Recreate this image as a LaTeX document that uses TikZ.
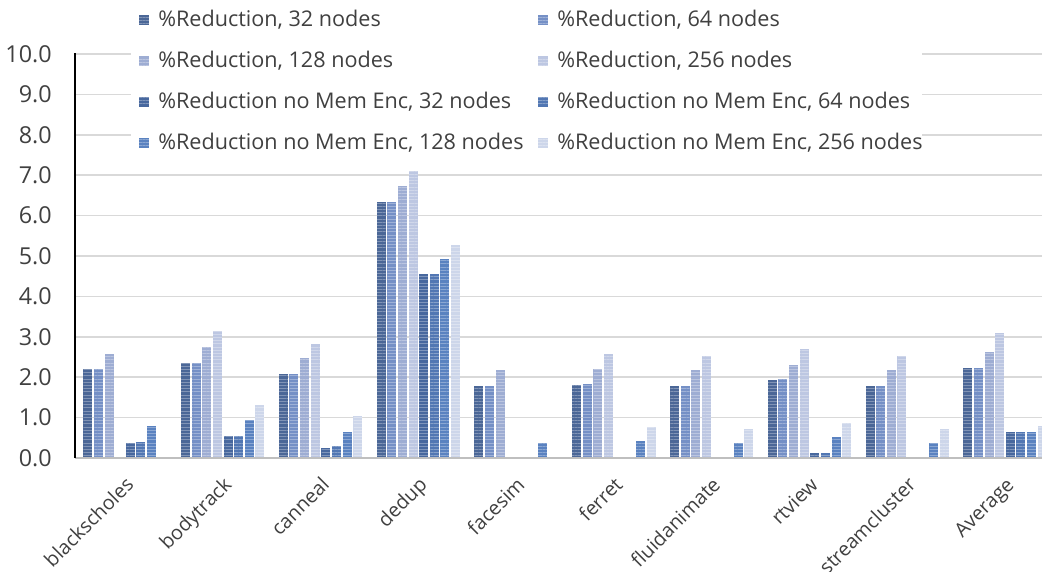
\documentclass[tikz,border=0pt]{standalone}
\usepackage{fontspec}
\setmainfont{Open Sans}
\usetikzlibrary{patterns.meta}

\definecolor{red32}{HTML}{4B6797}
\definecolor{red64}{HTML}{7590C6}
\definecolor{red128}{HTML}{9EADD3}
\definecolor{red256}{HTML}{BDC7E2}
\definecolor{nomem32}{HTML}{48689E}
\definecolor{nomem64}{HTML}{5277B3}
\definecolor{nomem128}{HTML}{5A82C0}
\definecolor{nomem256}{HTML}{CDD6EA}
\definecolor{txtgrey}{HTML}{404040}
\definecolor{gridgrey}{HTML}{D9D9D9}
\definecolor{basegrey}{HTML}{BFBFBF}

\tikzset{
  stripes/.style={pattern={Lines[angle=0,distance=2.4pt,line width=0.7pt]},pattern color=white,opacity=0.3},
  gridline/.style={draw=gridgrey,line width=1.1pt},
  lbl/.style={font=\fontsize{16.2}{19}\selectfont,text=txtgrey,inner sep=0pt},
  ylbl/.style={lbl,font=\fontsize{17.5}{20}\selectfont,anchor=east},
  catlbl/.style={lbl,font=\fontsize{14.8}{18}\selectfont,rotate=45,anchor=base east}
}

\begin{document}
\begin{tikzpicture}[x=0.75pt,y=0.75pt]
			\useasboundingbox (0,-571) rectangle (1042,0);
			\clip (0,-571) rectangle (1042,0);

			% grid and y labels
			\foreach \k in {1,...,10}
				\draw[gridline] (75,{-458+40.4*\k}) -- (1042,{-458+40.4*\k});
			\foreach \k in {0,...,10}
				\node[ylbl] (y\k) at (52,{-458+40.4*\k}) {\k.0};

			% legend
			\fill[white] (131,0) rectangle (922,-160);
			\foreach \c/\txt [count=\r from 0] in {red32/{\%Reduction, 32 nodes},red128/{\%Reduction, 128 nodes},nomem32/{\%Reduction no Mem Enc, 32 nodes},nomem128/{\%Reduction no Mem Enc, 128 nodes}} {
				\fill[\c,postaction={stripes}] (139,{-24.5-41*\r}) rectangle ++(10,10);
				\node[lbl,anchor=west] (legA\r) at (158,{-19.5-41*\r}) {\txt};
			}
			\foreach \c/\txt [count=\r from 0] in {red64/{\%Reduction, 64 nodes},red256/{\%Reduction, 256 nodes},nomem64/{\%Reduction no Mem Enc, 64 nodes},nomem256/{\%Reduction no Mem Enc, 256 nodes}} {
				\fill[\c,postaction={stripes}] (538,{-24.5-41*\r}) rectangle ++(10,10);
				\node[lbl,anchor=west] (legB\r) at (557,{-19.5-41*\r}) {\txt};
			}

			% bars
			\foreach \vals [count=\g from 0] in {
				{2.20,2.20,2.58,0,0.38,0.40,0.78,0},
				{2.36,2.36,2.74,3.14,0.55,0.55,0.94,1.31},
				{2.09,2.09,2.48,2.83,0.26,0.29,0.65,1.05},
				{6.33,6.33,6.73,7.11,4.55,4.55,4.93,5.28},
				{1.79,1.79,2.18,0,0,0,0.38,0},
				{1.81,1.83,2.20,2.58,0,0,0.41,0.77},
				{1.78,1.78,2.18,2.53,0,0,0.37,0.73},
				{1.92,1.96,2.31,2.69,0.12,0.12,0.51,0.87},
				{1.78,1.78,2.18,2.53,0,0,0.37,0.73},
				{2.23,2.24,2.63,3.10,0.64,0.64,0.64,0.78}} {
				\foreach \v [count=\b from 0] in \vals {
					\ifcase\b \def\c{red32}\or \def\c{red64}\or \def\c{red128}\or \def\c{red256}\or
						\def\c{nomem32}\or \def\c{nomem64}\or \def\c{nomem128}\or \def\c{nomem256}\fi
					\fill[\c,postaction={stripes}] ({83.3+97.78*\g+10.63*\b},-458) rectangle ++(9,{40.4*\v});
				}
			}

			% axes
			\draw[basegrey,line width=2.2pt] (75,-458) -- (1042,-458);
			\draw[black,line width=0.9pt] (75,-53.3) -- (75,-458);

			% categories
			\foreach \name [count=\g from 0] in {blackscholes,bodytrack,canneal,dedup,facesim,ferret,fluidanimate,rtview,streamcluster,Average}
				\node[catlbl] (cat\g) at ({125+97.78*\g+10},-486) {\name};
		\end{tikzpicture}
\end{document}
